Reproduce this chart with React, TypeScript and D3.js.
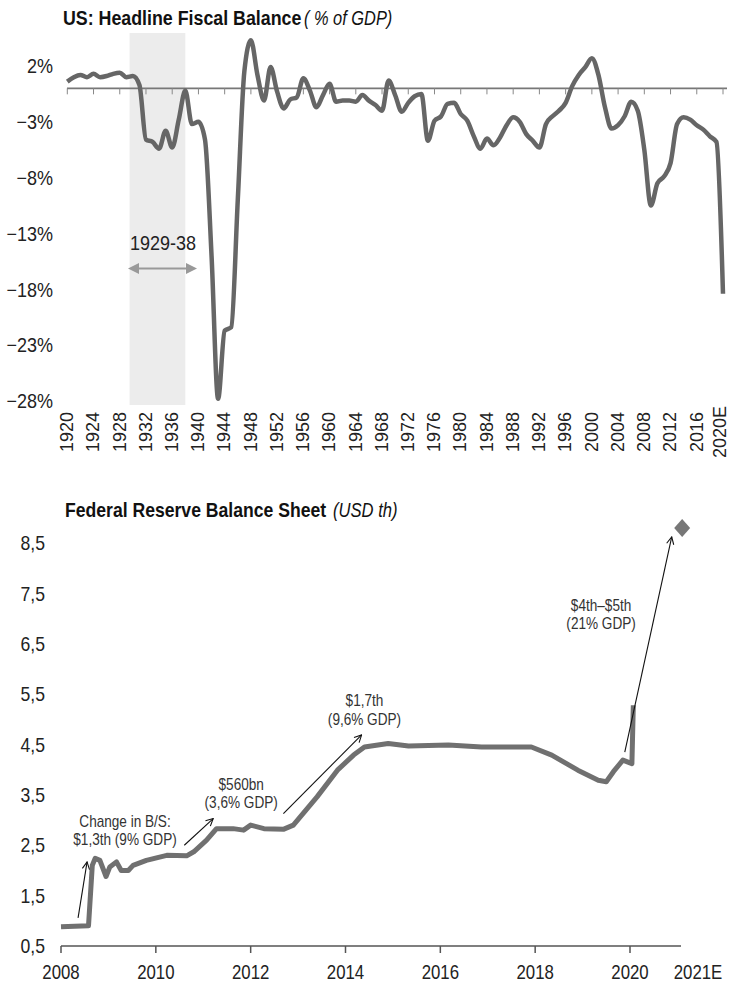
import React from 'react';
import * as d3 from 'd3';

// ---- top chart: US headline fiscal balance, % of GDP (1920 - 2020E)
const fiscalYears = d3.range(1920, 2021);
const fiscalBalance = [
  0.6, 1.0, 1.2, 1.0, 1.3, 1.0, 1.1, 1.3, 1.4, 1.0,
  1.1, 0.3, -4.6, -4.8, -5.4, -3.8, -5.3, -2.8, -0.2, -3.2,
  -3.0, -4.6, -15.0, -27.8, -21.7, -21.4, -10.0, 1.5, 4.3, 1.2,
  -1.1, 1.9, -0.3, -1.8, -1.0, -0.8, 0.9, -0.2, -1.7, -0.6,
  0.4, -1.2, -1.1, -1.1, -1.2, -0.6, -1.1, -1.5, -2.0, 0.7,
  -0.6, -2.1, -1.3, -0.7, -0.5, -4.7, -2.9, -2.5, -1.4, -1.3,
  -2.3, -2.9, -4.3, -5.4, -4.5, -5.1, -4.4, -3.3, -2.6, -3.0,
  -4.1, -4.7, -5.3, -3.2, -2.5, -2.0, -1.3, 0.2, 1.2, 1.9,
  2.7, 1.2, -1.7, -3.6, -3.3, -2.5, -1.2, -2.0, -5.5, -10.5,
  -8.5, -7.9, -6.7, -3.2, -2.6, -2.8, -3.3, -3.7, -4.3, -4.8,
  -18.4,
];
const fiscalTicks = [2, -3, -8, -13, -18, -23, -28];
const yearTicks = d3.range(1920, 2021, 4);
const depression = [1929.5, 1938];

// ---- bottom chart: Fed balance sheet, USD trillion
const fedDates = [
  2008.0, 2008.58, 2008.66, 2008.72, 2008.82, 2008.95, 2009.03, 2009.17, 2009.27, 2009.42,
  2009.52, 2009.8, 2010.23, 2010.65, 2010.8, 2011.07, 2011.28, 2011.63, 2011.85, 2012.0,
  2012.28, 2012.7, 2012.9, 2013.4, 2013.83, 2014.17, 2014.4, 2014.9, 2015.33, 2016.17,
  2016.87, 2017.92, 2018.35, 2018.9, 2019.33, 2019.5, 2019.65, 2019.85, 2020.04, 2020.07,
];
const fedValues = [
  0.88, 0.9, 2.1, 2.24, 2.2, 1.88, 2.07, 2.17, 2.0, 2.0,
  2.1, 2.2, 2.3, 2.29, 2.37, 2.6, 2.83, 2.83, 2.8, 2.9,
  2.83, 2.82, 2.9, 3.46, 3.99, 4.29, 4.45, 4.52, 4.47, 4.49,
  4.45, 4.45, 4.29, 3.99, 3.79, 3.76, 3.96, 4.19, 4.12, 5.28,
];
const estDate = 2021.1;
const estValue = 8.8;
const fedTicks = [0.5, 1.5, 2.5, 3.5, 4.5, 5.5, 6.5, 7.5, 8.5];
const fedYearTicks = [2008, 2010, 2012, 2014, 2016, 2018, 2020];

// annotations: arrow [x0, y0, x1, y1] and label anchor, in data units
const notes = [
  { arrow: [2008.36, 1.06, 2008.55, 2.17], at: [2009.35, 2.87], lines: ['Change in B/S:', '$1,3th (9% GDP)'] },
  { arrow: [2010.6, 2.5, 2011.21, 3.03], at: [2011.8, 3.6], lines: ['$560bn', '(3,6% GDP)'] },
  { arrow: [2012.69, 3.13, 2014.34, 4.69], at: [2014.4, 5.26], lines: ['$1,7th', '(9,6% GDP)'] },
  { arrow: [2019.89, 4.35, 2020.88, 8.62], at: [2019.39, 7.16], lines: ['$4th–$5th', '(21% GDP)'] },
];

const FONT = '"Liberation Sans", Arial, sans-serif';

// condensed text (no narrow face installed, so squeeze horizontally)
function T({ x, y, sx = 0.86, size = 20, anchor = 'start', dy, fill = '#222', weight, style, children }: any) {
  return (
    <text transform={`translate(${x},${y}) scale(${sx},1)`} textAnchor={anchor} fontSize={size} dy={dy}
      fill={fill} fontWeight={weight} fontStyle={style}>
      {children}
    </text>
  );
}

export default function App() {
  const x1 = d3.scaleLinear().domain([1920, 2020]).range([67.3, 723]);
  const y1 = d3.scaleLinear().domain([-28, 2]).range([401, 66]);
  const fiscalLine = d3.line<number>()
    .x((d, i) => x1(fiscalYears[i]))
    .y(d => y1(d))
    .curve(d3.curveMonotoneX);

  const x2 = d3.scaleLinear().domain([2008, 2020]).range([61, 630]);
  const y2 = d3.scaleLinear().domain([0.5, 8.5]).range([946, 543]);
  const fedLine = d3.line<number>()
    .x((d, i) => x2(fedDates[i]))
    .y(d => y2(d));

  const fmtPct = (v: number) => (v < 0 ? '\u2212' + Math.abs(v) : String(v)) + '%';
  const fmtComma = (v: number) => String(v).replace('.', ',');

  const ex = x2(estDate);
  const ey = y2(estValue);

  return (
    <svg width={730} height={984} style={{ position: 'absolute', left: 0, top: 0, background: '#fff' }}
      fontFamily={FONT}>
      <defs>
        <marker id="open" viewBox="0 0 10 10" refX="9" refY="5" markerWidth="9" markerHeight="9"
          orient="auto" markerUnits="userSpaceOnUse">
          <path d="M1,1 L9,5 L1,9" fill="none" stroke="#111" strokeWidth={1.2} />
        </marker>
      </defs>

      {/* ---------------- top chart ---------------- */}
      <T x={63} y={25} sx={0.89} weight="bold" fill="#111">US: Headline Fiscal Balance</T>
      <T x={304} y={25} sx={0.82} style="italic" fill="#111">( % of GDP)</T>

      <rect x={x1(depression[0])} y={33} width={x1(depression[1]) - x1(depression[0])} height={372} fill="#ececec" />

      {fiscalTicks.map(t => (
        <T key={t} x={53} y={y1(t)} dy="0.36em" anchor="end" sx={0.9}>{fmtPct(t)}</T>
      ))}

      <line x1={67} x2={727} y1={y1(0)} y2={y1(0)} stroke="#777" strokeWidth={1.6} />
      {yearTicks.map(t => (
        <line key={t} x1={x1(t)} x2={x1(t)} y1={y1(0)} y2={y1(0) + 6} stroke="#888" strokeWidth={1} />
      ))}

      <path d={fiscalLine(fiscalBalance) || ''} fill="none" stroke="#666" strokeWidth={4.5} strokeLinejoin="round" />

      {yearTicks.map(t => (
        <text key={t} transform={`translate(${x1(t) - (t === 2020 ? 3 : 0)},432) rotate(-90)`} dy="0.32em"
          textAnchor="middle" fontSize={18} fill="#222">{t === 2020 ? '2020E' : t}</text>
      ))}

      <g>
        <T x={163} y={250} anchor="middle" sx={0.9}>1929-38</T>
        <line x1={136} x2={190} y1={268.5} y2={268.5} stroke="#999" strokeWidth={2} />
        <path d="M128,268.5 L139,263 L139,274 Z" fill="#999" />
        <path d="M197,268.5 L186,263 L186,274 Z" fill="#999" />
      </g>

      {/* ---------------- bottom chart ---------------- */}
      <T x={65} y={517} sx={0.88} weight="bold" fill="#111">Federal Reserve Balance Sheet</T>
      <T x={333} y={517} sx={0.83} style="italic" fill="#111">(USD th)</T>

      {fedTicks.map(t => (
        <T key={t} x={45} y={y2(t)} dy="0.36em" anchor="end" sx={0.88}>{fmtComma(t)}</T>
      ))}

      <line x1={61} x2={681} y1={946} y2={946} stroke="#555" strokeWidth={1.5} />
      {fedYearTicks.map(t => (
        <g key={t}>
          <line x1={x2(t)} x2={x2(t)} y1={946} y2={953} stroke="#555" strokeWidth={1.5} />
          <T x={x2(t)} y={979} anchor="middle" size={21} sx={0.8}>{t}</T>
        </g>
      ))}
      <T x={698} y={979} anchor="middle" size={21} sx={0.8}>2021E</T>

      <path d={fedLine(fedValues) || ''} fill="none" stroke="#707070" strokeWidth={5} strokeLinejoin="round" />

      <path d={`M${ex},${ey - 9} L${ex + 8},${ey} L${ex},${ey + 9} L${ex - 8},${ey} Z`} fill="#777" />

      {notes.map((n, i) => (
        <g key={i}>
          <line x1={x2(n.arrow[0])} y1={y2(n.arrow[1])} x2={x2(n.arrow[2])} y2={y2(n.arrow[3])}
            stroke="#111" strokeWidth={1.1} markerEnd="url(#open)" />
          {n.lines.map((s, j) => (
            <T key={j} x={x2(n.at[0])} y={y2(n.at[1]) + j * 18.5} anchor="middle" size={16} sx={0.85} fill="#333">{s}</T>
          ))}
        </g>
      ))}
    </svg>
  );
}
